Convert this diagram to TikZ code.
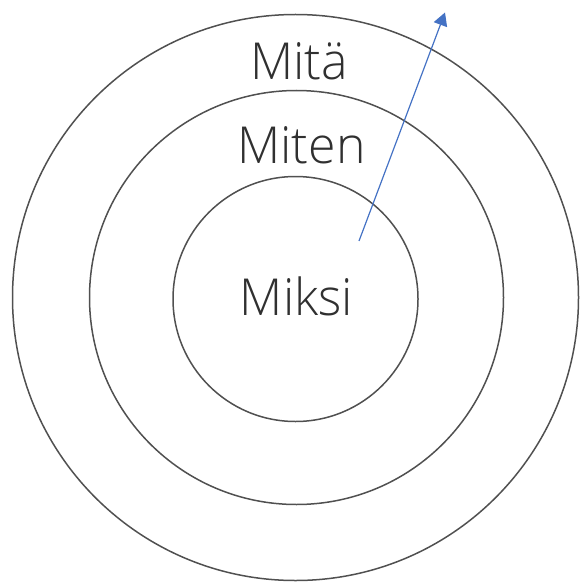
\documentclass[tikz,border=0pt]{standalone}
\usepackage{fontspec}
\setmainfont{Open Sans Light}
\usetikzlibrary{arrows.meta}
\definecolor{ringgray}{HTML}{505050}
\definecolor{txtgray}{HTML}{303030}
\definecolor{arrowblue}{HTML}{4472C4}
\tikzset{
  ring/.style={draw=ringgray, line width=1.5pt, circle, inner sep=0pt},
  lbl/.style={text=txtgray, font=\fontsize{51}{60}\selectfont, anchor=base, inner sep=0pt, xscale=0.98},
  blue arrow/.style={draw=arrowblue, line width=1.2pt, -{Triangle[length=13pt,width=14pt]}}
}
\begin{document}
\begin{tikzpicture}[x=1pt,y=-1pt]
\useasboundingbox (0,0) rectangle (579,583);
\node[ring, minimum size=566pt] (outer) at (295.5,297.5) {};
\node[ring, minimum size=414pt] (middle) at (296.5,297.5) {};
\node[ring, minimum size=245pt] (inner) at (295.5,299) {};
\node[lbl] (mita) at (299,80) {Mitä};
\node[lbl] (miten) at (301.5,163) {Miten};
\node[lbl] (miksi) at (296.5,315) {Miksi};
\coordinate (astart) at (359,241);
\coordinate (aend) at (445,12.5);
\draw[blue arrow] (astart) -- (aend);
\end{tikzpicture}
\end{document}
